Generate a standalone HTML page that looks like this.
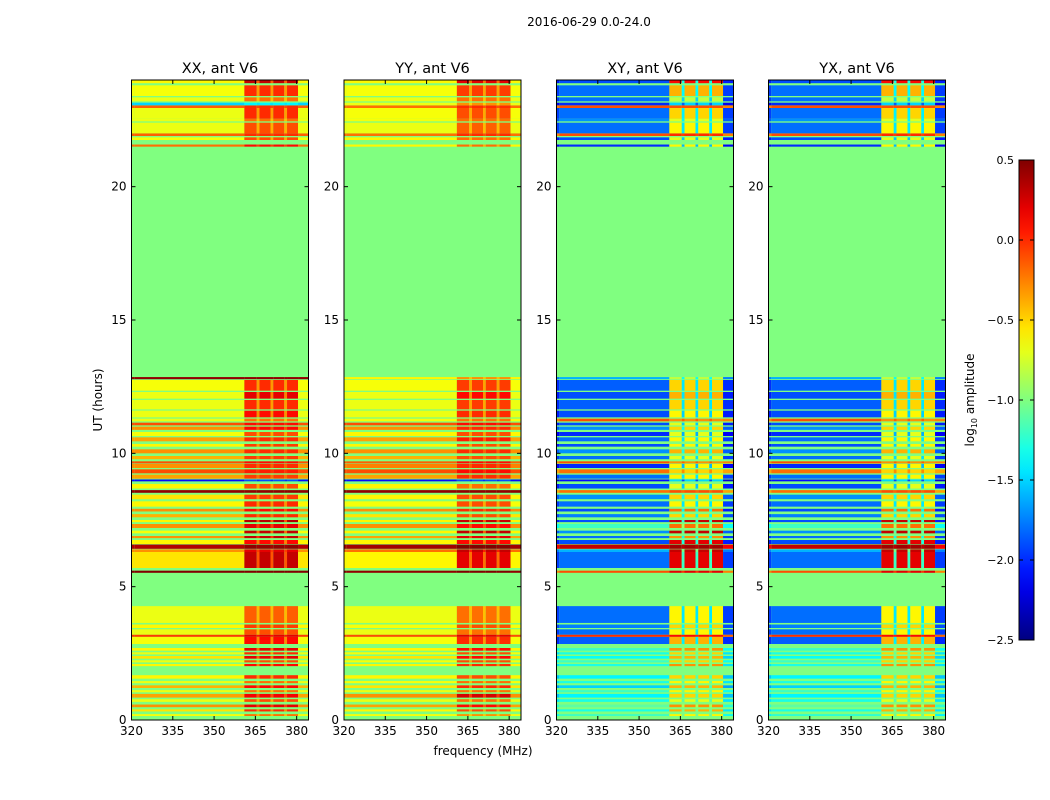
<!DOCTYPE html>
<html><head><meta charset="utf-8"><style>
body{margin:0;background:#fff;width:1050px;height:800px;overflow:hidden}
svg{display:block;font-family:"DejaVu Sans","Liberation Sans",sans-serif}
</style></head><body>
<svg id="fig" width="1050" height="800" viewBox="0 0 1050 800">
<defs><linearGradient id="jetgrad" x1="0" y1="1" x2="0" y2="0"></linearGradient></defs>
<text x="589" y="26" font-size="12" text-anchor="middle">2016-06-29 0.0-24.0</text>
<text transform="translate(102,400) rotate(-90)" font-size="12" text-anchor="middle">UT (hours)</text>
<text x="483" y="755" font-size="12" text-anchor="middle">frequency (MHz)</text>
<g id="panels"></g>
<g id="cbar"></g>
</svg>
<script>
// time bands (hours)
const bandStart=[0.15,0.32,0.48,0.68,0.84,1.04,1.2,1.38,1.55,2.02,2.16,2.3,2.46,2.6,2.85,3.12,3.2,3.45,3.64,5.52,5.7,6.3,6.42,6.6,6.82,7.0,7.2,7.42,7.6,7.82,8.0,8.28,8.52,8.68,8.95,9.05,9.25,9.45,9.62,9.78,10.0,10.25,10.45,10.65,10.88,11.05,11.2,11.35,11.65,12.05,12.35,12.78,21.5,21.75,21.9,22.0,22.45,22.55,22.95,23.05,23.2,23.4,23.88];
const bandEnd=[0.22,0.40,0.58,0.78,0.98,1.12,1.3,1.46,1.68,2.1,2.24,2.4,2.54,2.7,3.12,3.2,3.4,3.58,4.27,5.6,6.3,6.4,6.58,6.75,6.9,7.1,7.35,7.5,7.72,7.92,8.2,8.45,8.62,8.85,9.02,9.2,9.4,9.6,9.7,9.9,10.15,10.35,10.6,10.8,11.0,11.15,11.3,11.6,12.0,12.3,12.75,12.86,21.58,21.85,22.0,22.4,22.55,22.95,23.05,23.15,23.35,23.8,24.0];
// log10 amplitude, low-frequency part and RFI-band part
const xxLow=[-0.65,-0.55,-0.3,-0.68,-0.35,-0.68,-0.4,-0.68,-0.6,-0.6,-0.68,-0.55,-0.68,-0.6,-0.65,-0.05,-0.68,-0.6,-0.68,0.5,-0.55,-0.3,0.35,-0.6,-0.3,-0.65,-0.3,-0.6,-0.4,-0.3,-0.6,-0.55,0.45,-0.6,-2.1,-0.35,-0.1,-0.3,-0.1,-0.4,-0.3,-0.6,-0.35,-0.65,-0.3,-0.1,-0.68,-0.68,-0.68,-0.68,-0.65,0.45,-0.2,-0.65,-0.15,-0.68,-0.68,-0.68,-0.15,-1.5,-0.68,-0.65,-0.6];
const xxHigh=[-0.2,0.0,0.2,-0.1,0.15,-0.2,0.1,-0.2,0.0,0.1,-0.1,0.2,0.0,0.2,0.1,0.2,-0.1,-0.05,-0.15,0.5,0.3,0.2,0.45,0.1,0.3,0.3,0.2,0.35,0.0,0.1,0.0,-0.05,0.45,-0.1,-1.9,-0.05,0.05,0.0,0.1,-0.05,0.0,-0.05,0.0,-0.1,0.1,0.1,-0.2,0.1,0.0,0.2,0.0,0.45,0.1,-0.1,0.0,-0.1,-0.2,0.0,0.0,-1.4,-0.2,0.0,0.3];
const yyLow=[-0.65,-0.6,-0.35,-0.68,-0.3,-0.68,-0.55,-0.65,-0.6,-0.6,-0.65,-0.55,-0.65,-0.6,-0.65,-0.1,-0.68,-0.65,-0.68,0.45,-0.6,-0.2,0.4,-0.6,-0.35,-0.6,-0.3,-0.6,-0.55,-0.3,-0.65,-0.6,0.45,-0.6,-2.1,-0.35,-0.1,-0.25,-0.15,-0.4,-0.3,-0.6,-0.35,-0.6,-0.3,-0.1,-0.65,-0.68,-0.68,-0.68,-0.65,-0.6,-0.6,-0.6,-0.2,-0.68,-0.65,-0.65,-0.2,-0.68,-0.68,-0.65,-0.6];
const yyHigh=[-0.3,-0.1,0.1,-0.2,0.25,-0.2,0.0,-0.2,-0.1,0.0,-0.1,0.1,-0.1,0.1,0.0,0.2,-0.2,-0.1,-0.2,0.5,0.2,0.3,0.5,0.1,0.2,0.3,0.1,0.3,-0.1,0.0,-0.1,-0.1,0.45,-0.2,-1.9,0.0,0.1,0.0,0.1,-0.1,0.0,-0.1,0.05,-0.1,0.0,0.1,-0.2,0.0,-0.05,0.1,-0.05,-0.3,-0.2,-0.2,0.0,-0.15,-0.2,-0.1,0.0,-0.3,-0.2,-0.05,0.2];
const xyLow=[-1.2,-1.3,-1.1,-1.3,-1.4,-1.2,-1.5,-1.3,-1.4,-1.3,-1.2,-1.35,-1.3,-1.2,-1.85,0.0,-1.8,-1.75,-1.8,-0.1,-1.8,-1.6,0.3,-1.9,-1.8,-1.7,-1.2,-1.9,-1.75,-1.9,-1.8,-1.7,-0.2,-1.9,-2.1,-1.8,-0.2,-2.0,-0.1,-1.8,-1.7,-1.9,-1.8,-2.0,-1.7,-1.9,-0.1,-1.9,-1.85,-1.9,-1.85,-1.6,-2.0,-1.9,-0.1,-1.8,-1.7,-1.8,-0.1,-2.0,-1.8,-1.8,-1.9];
const xyHigh=[-0.6,-0.4,-0.3,-0.7,-0.5,-0.6,-0.4,-0.6,-0.5,-0.3,-0.5,-0.4,-0.5,-0.3,-0.4,0.1,-0.6,-0.5,-0.6,0.2,0.2,0.3,0.4,0.2,-0.3,0.3,-0.2,0.3,-0.5,-0.2,-0.6,-0.5,-0.1,-0.7,-1.5,-0.6,-0.5,-0.6,-0.3,-0.7,-0.4,-0.6,-0.6,-0.7,-0.5,-0.7,-0.3,-0.6,-0.5,-0.4,-0.5,-0.8,-0.6,-0.7,0.0,-0.6,-0.7,-0.5,-0.1,-1.5,-0.8,-0.4,0.1];
const yxLow=[-1.25,-1.3,-1.1,-1.3,-1.4,-1.2,-1.5,-1.3,-1.4,-1.3,-1.2,-1.35,-1.3,-1.2,-1.85,0.0,-1.8,-1.75,-1.8,-0.1,-1.8,-1.6,0.3,-1.9,-1.8,-1.7,-1.2,-1.9,-1.75,-1.9,-1.8,-1.7,-0.2,-1.9,-2.1,-1.8,-0.2,-2.0,-0.1,-1.8,-1.7,-1.9,-1.8,-2.0,-1.7,-1.9,-0.1,-1.9,-1.85,-1.9,-1.85,-1.6,-2.0,-1.9,-0.1,-1.8,-1.7,-1.8,-0.1,-2.0,-1.8,-1.8,-1.9];
const yxHigh=[-0.6,-0.4,-0.3,-0.7,-0.5,-0.6,-0.4,-0.6,-0.5,-0.3,-0.5,-0.4,-0.5,-0.3,-0.4,0.1,-0.6,-0.5,-0.6,0.2,0.2,0.3,0.4,0.2,-0.3,0.3,-0.2,0.3,-0.5,-0.2,-0.6,-0.5,-0.1,-0.7,-1.5,-0.6,-0.5,-0.6,-0.3,-0.7,-0.4,-0.6,-0.6,-0.7,-0.5,-0.7,-0.3,-0.6,-0.5,-0.4,-0.5,-0.8,-0.6,-0.7,0.0,-0.6,-0.7,-0.5,-0.1,-1.5,-0.8,-0.4,0.1];
// frequency segments (MHz): E=edge, L=low, H=RFI band, G=gap
const segEdges=[320,321,361,365.5,366.5,370.5,371.5,375.5,376.5,380.5,384.3];
const segType=['E','L','H','G','H','G','H','G','H','E'];
const panelNames=['XX','YY','XY','YX'];
const yTicks=[0,5,10,15,20];
const xTicks=[320,335,350,365,380];
const cbTicks=[0.5,0.0,-0.5,-1.0,-1.5,-2.0,-2.5];
const flagValue=-1.0;

const panelX=[131.5,344,556.5,768.5], panelW=177, plotTop=80, plotBottom=720;
const vmin=-2.5,vmax=0.5;
const lows=[xxLow,yyLow,xyLow,yxLow], highs=[xxHigh,yyHigh,xyHigh,yxHigh];
const gapW=[0.5,0.5,0.3,0.3], edgeOff=[0,0,-0.15,-0.15];
const NS='http://www.w3.org/2000/svg';
function clip(v){return Math.max(0,Math.min(1,v));}
function jet(v){const t=clip((v-vmin)/(vmax-vmin));
 const r=clip(1.5-Math.abs(4*t-3)),g=clip(1.5-Math.abs(4*t-2)),b=clip(1.5-Math.abs(4*t-1));
 return `rgb(${Math.round(r*255)},${Math.round(g*255)},${Math.round(b*255)})`;}
function yScale(h){return plotBottom-(h/24)*(plotBottom-plotTop);}
function xScale(p,f){return panelX[p]+(f-320)*(panelW/64.3);}
function el(tag,attrs,parent){const e=document.createElementNS(NS,tag);for(const k in attrs)e.setAttribute(k,attrs[k]);parent.appendChild(e);return e;}
function fmt(v){return (v<0?'\u2212':'')+Math.abs(v).toFixed(1);}

const panels=document.getElementById('panels');
for(let p=0;p<4;p++){
 const g=el('g',{},panels);
 
 
 const x0=panelX[p];
 const bg=el('rect',{x:x0,y:plotTop,width:panelW,height:plotBottom-plotTop,fill:jet(flagValue)},g);
 
 
 for(let i=0;i<bandStart.length;i++){
  const y1=yScale(bandEnd[i]),y0=yScale(bandStart[i]);
  const L=lows[p][i],H=highs[p][i];
  if(L===undefined||H===undefined)continue;
  for(let s=0;s<segType.length;s++){
   let v=L; const t=segType[s];
   if(t==='H')v=H; else if(t==='G')v=L+gapW[p]*(H-L); else if(t==='E')v=L+edgeOff[p];
   const xa=xScale(p,segEdges[s]),xb=Math.min(xScale(p,segEdges[s+1]),x0+panelW);
   const r=el('rect',{x:xa.toFixed(2),y:y1.toFixed(2),width:(xb-xa).toFixed(2),height:Math.max(0.8,y0-y1).toFixed(2),fill:jet(v)},g);
   
   
  }
 }
 const fr=el('rect',{x:x0,y:plotTop,width:panelW,height:plotBottom-plotTop,fill:'none',stroke:'#000','stroke-width':1},g);
 
 
 const tt=el('text',{x:x0+panelW/2,y:73,'font-size':14.5,'text-anchor':'middle'},g);
 tt.textContent=panelNames[p]+', ant V6';
 
 
 for(const h of yTicks){const y=yScale(h);
  el('line',{x1:x0,x2:x0+4,y1:y,y2:y,stroke:'#000'},g);
  el('line',{x1:x0+panelW-4,x2:x0+panelW,y1:y,y2:y,stroke:'#000'},g);
  const lb=el('text',{x:x0-5,y:y+4,'font-size':12,'text-anchor':'end'},g);
  lb.textContent=h;
  
  }
 for(const f of xTicks){const x=xScale(p,f);
  el('line',{x1:x,x2:x,y1:plotBottom,y2:plotBottom-4,stroke:'#000'},g);
  el('line',{x1:x,x2:x,y1:plotTop,y2:plotTop+4,stroke:'#000'},g);
  const lb=el('text',{x:x,y:plotBottom+15,'font-size':12,'text-anchor':'middle'},g);
  lb.textContent=f;
  
  }
}
// colorbar
const grad=document.getElementById('jetgrad');
for(let k=0;k<=20;k++){const v=vmin+(vmax-vmin)*k/20;el('stop',{offset:(k/20),'stop-color':jet(v)},grad);}
const cb=document.getElementById('cbar');
const cbX=1019,cbW=15,cbTop=160,cbBot=640;
el('rect',{x:cbX,y:cbTop,width:cbW,height:cbBot-cbTop,fill:'url(#jetgrad)',stroke:'#000','stroke-width':1},cb);
for(const v of cbTicks){const y=cbBot-(v-vmin)/(vmax-vmin)*(cbBot-cbTop);
 el('line',{x1:cbX,x2:cbX+4,y1:y,y2:y,stroke:'#000'},cb);
 el('line',{x1:cbX+cbW-4,x2:cbX+cbW,y1:y,y2:y,stroke:'#000'},cb);
 const lb=el('text',{x:cbX-5,y:y+4,'font-size':11,'text-anchor':'end'},cb);
 lb.textContent=fmt(v);
 
 }
const cl=el('text',{transform:'translate(974,400) rotate(-90)','font-size':12,'text-anchor':'middle'},cb);
cl.innerHTML='log<tspan font-size="8" dy="3">10</tspan><tspan dy="-3"> amplitude</tspan>';


</script>
</body></html>
